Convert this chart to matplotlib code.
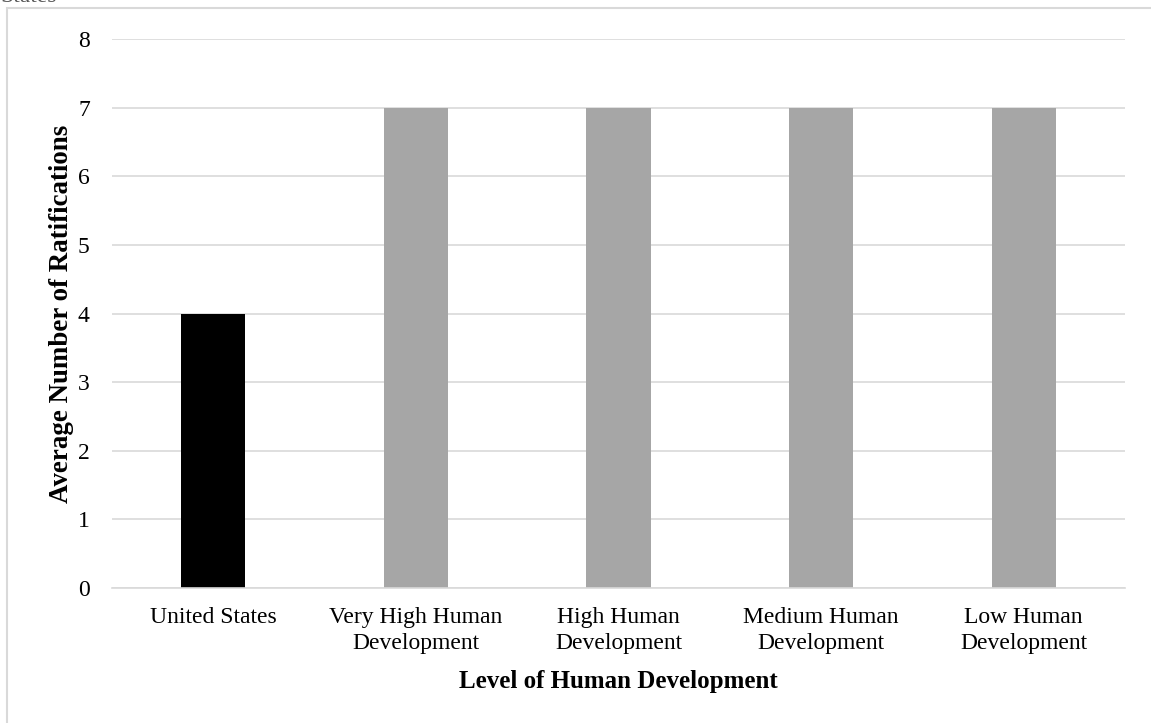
import matplotlib.pyplot as plt
from matplotlib.patches import Rectangle

categories = ['United States', 'Very High Human\nDevelopment', 'High Human\nDevelopment',
              'Medium Human\nDevelopment', 'Low Human\nDevelopment']
values = [4, 7, 7, 7, 7]
colors = ['#000000', '#A6A6A6', '#A6A6A6', '#A6A6A6', '#A6A6A6']

plt.rcParams['font.family'] = ['Liberation Serif', 'DejaVu Serif']

W, H = 1151, 723
fig = plt.figure(figsize=(W / 100, H / 100), dpi=100)
ax = fig.add_axes([112 / W, 1 - 588 / H, (1125 - 112) / W, (588 - 39) / H])

x = range(len(categories))
ax.bar(x, values, width=0.316, color=colors, zorder=2)
ax.set_xlim(-0.5, len(categories) - 0.5)
ax.set_ylim(0, 8)
ax.set_yticks(range(0, 9))
ax.set_xticks(list(x))
ax.set_xticklabels(categories, fontsize=17, linespacing=1.3)
ax.tick_params(axis='y', labelsize=17, length=0, pad=16)
ax.tick_params(axis='x', length=0, pad=14)
ax.grid(axis='y', color='#D9D9D9', linewidth=1.2, zorder=0)
for s in ['top', 'right', 'left']:
    ax.spines[s].set_visible(False)
ax.spines['bottom'].set_color('#D9D9D9')
ax.spines['bottom'].set_linewidth(1.2)

ax.set_xlabel('Level of Human Development', fontsize=18, fontweight='bold', labelpad=11)
ax.set_ylabel('Average Number of Ratifications', fontsize=19.4, fontweight='bold', labelpad=3)

# chart frame, cut off by the picture edge
fig.patches.append(Rectangle((7 / W, -0.1), 1.2, 1 - 8 / H + 0.1, transform=fig.transFigure,
                             fill=False, edgecolor='#D9D9D9', linewidth=1.5))
fig.text(0.0, 1 + 14 / H, 'States', fontsize=17, color='#595959', va='top', ha='left')

fig.savefig('out.png', dpi=100)
